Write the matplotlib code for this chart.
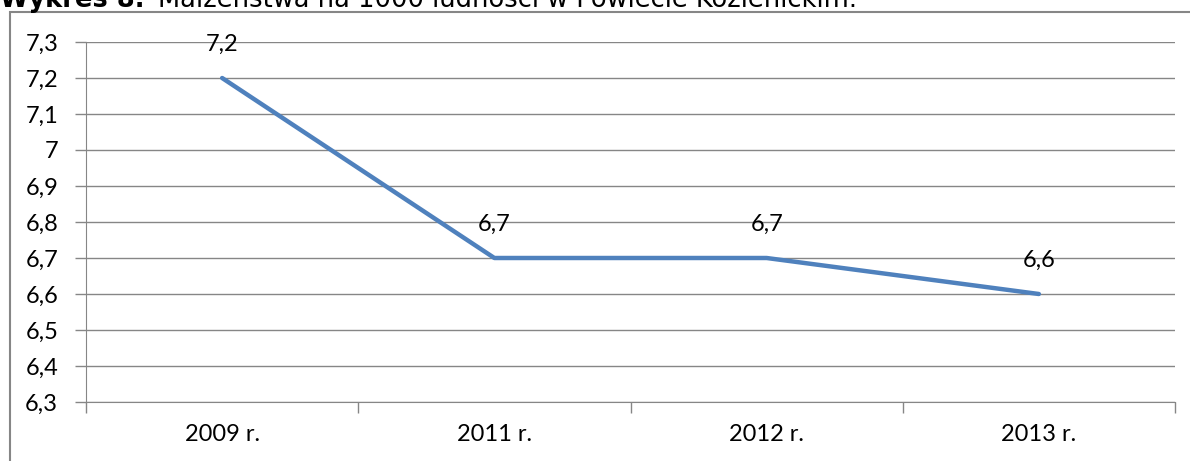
import matplotlib.pyplot as plt
from matplotlib.patches import Rectangle
from matplotlib.ticker import MultipleLocator, FuncFormatter

years = ["2009 r.", "2011 r.", "2012 r.", "2013 r."]
values = [7.2, 6.7, 6.7, 6.6]
labels = ["7,2", "6,7", "6,7", "6,6"]

W, H = 1190, 461
fig = plt.figure(figsize=(W / 100, H / 100), dpi=100)
fig.patch.set_facecolor("white")

# outer frame of the chart (extends past right / bottom edge)
fig.patches.append(Rectangle((10 / W, -0.05), 1.2, (H - 12.5) / H + 0.05,
                             transform=fig.transFigure, fill=False,
                             edgecolor="#868686", lw=1.5))

# title, clipped at the top edge like in the source
fig.text(0 / W, 1 - 7 / H, "Wykres 8.", fontsize=18.5, fontweight="bold",
         family="DejaVu Sans", va="baseline", ha="left")
fig.text(158 / W, 1 - 7 / H, "Małżeństwa na 1000 ludności w Powiecie Kozienickim.",
         fontsize=18.5, family="DejaVu Sans", va="baseline", ha="left")

ax = fig.add_axes([86 / W, 1 - 402 / H, (1175 - 86) / W, (402 - 42) / H])
x = range(len(years))
ax.plot(x, values, color="#4F81BD", lw=3.2, solid_capstyle="round")
ax.set_xlim(-0.5, len(years) - 0.5)
ax.set_ylim(6.3, 7.3)

ax.yaxis.set_major_locator(MultipleLocator(0.1))
ax.yaxis.set_major_formatter(FuncFormatter(
    lambda v, p: f"{v:.1f}".replace(".", ",").replace(",0", "")))
ax.grid(axis="y", color="#868686", lw=1)
ax.set_axisbelow(True)

ax.set_xticks([i - 0.5 for i in range(len(years) + 1)])
ax.set_xticklabels([])
ax.set_xticks(list(x), minor=True)
ax.set_xticklabels(years, minor=True)
ax.tick_params(axis="x", which="major", length=8, color="#868686", width=1)
ax.tick_params(axis="x", which="minor", length=0, pad=16, labelsize=17)
ax.tick_params(axis="y", length=8, color="#868686", width=1, pad=12, labelsize=17)
for t in ax.get_xticklabels(minor=True) + ax.get_yticklabels():
    t.set_family("Lato")

for s in ["top", "right"]:
    ax.spines[s].set_visible(False)
for s in ["left", "bottom"]:
    ax.spines[s].set_color("#868686")

for xi, v, lab in zip(x, values, labels):
    ax.annotate(lab, (xi, v), xytext=(0, 24), textcoords="offset points",
                ha="center", va="center", fontsize=17, family="Lato")

fig.savefig("out.png", dpi=100)
